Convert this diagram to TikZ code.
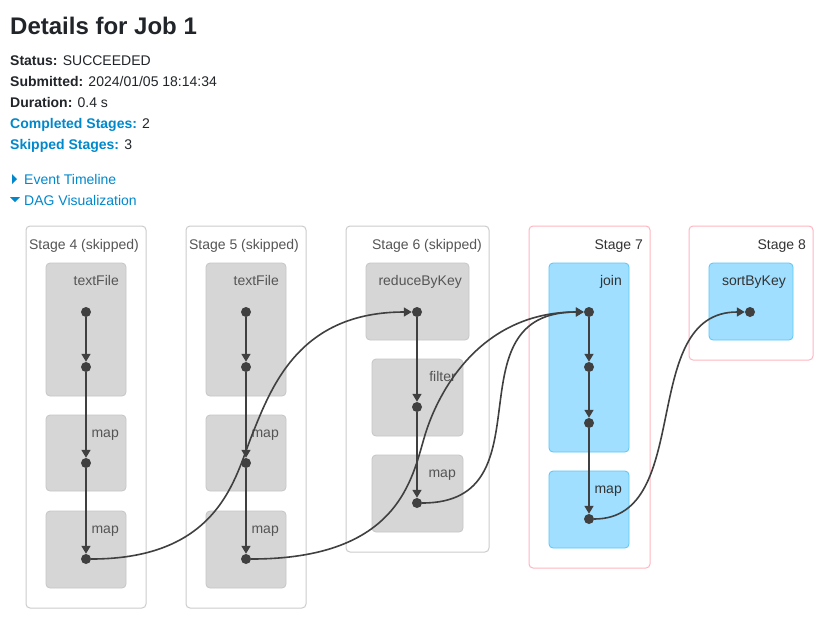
\documentclass[tikz,border=0pt]{standalone}
\usepackage{fontspec}
\setmainfont{Liberation Sans}
\usetikzlibrary{arrows.meta}
\definecolor{titlecol}{HTML}{212529}
\definecolor{linkcol}{HTML}{0088CC}
\definecolor{stageborder}{HTML}{CCCCCC}
\definecolor{activeborder}{HTML}{FFB6C1}
\definecolor{grayfill}{HTML}{D6D6D6}
\definecolor{grayborder}{HTML}{C6C6C6}
\definecolor{bluefill}{HTML}{A0DFFF}
\definecolor{blueborder}{HTML}{5BC6F8}
\definecolor{skiptext}{HTML}{555555}
\definecolor{activetext}{HTML}{333333}
\definecolor{dotcol}{HTML}{404040}
\tikzset{
  x=1pt, y=-1pt,
  txt/.style={inner sep=0pt, anchor=base west, font=\fontsize{14}{16}\selectfont, text=titlecol},
  stagebox/.style={draw=stageborder, line width=1pt, rounded corners=4pt, fill=white},
  activestage/.style={draw=activeborder, line width=1pt, rounded corners=4pt, fill=white},
  opbox/.style={draw=grayborder, line width=0.8pt, rounded corners=4pt, fill=grayfill},
  activeop/.style={draw=blueborder, line width=0.8pt, rounded corners=4pt, fill=bluefill},
  stlabel/.style={inner sep=0pt, anchor=base east, font=\fontsize{14}{16}\selectfont, text=skiptext},
  oplabel/.style={inner sep=0pt, anchor=base east, font=\fontsize{14}{16}\selectfont, text=skiptext},
  dot/.style={circle, fill=dotcol, inner sep=0pt, minimum size=10pt},
  edge/.style={draw=dotcol, line width=1.6pt, -{Triangle[length=8pt,width=9pt]}},
}
\begin{document}
\begin{tikzpicture}
\useasboundingbox[fill=white] (0,0) rectangle (840,630);
% header
\node[txt, font=\bfseries\fontsize{24}{28}\selectfont] (title) at (10,34) {Details for Job 1};
\node[txt] (status) at (10,65) {\textbf{Status:} SUCCEEDED};
\node[txt] (subm) at (10,86) {\textbf{Submitted:} 2024/01/05 18:14:34};
\node[txt] (dur) at (10,107) {\textbf{Duration:} 0.4 s};
\node[txt] (comp) at (10,128) {\textcolor{linkcol}{\textbf{Completed Stages:}} 2};
\node[txt] (skip) at (10,149) {\textcolor{linkcol}{\textbf{Skipped Stages:}} 3};
\fill[linkcol] (12,174) -- (17,179) -- (12,184) -- cycle;
\node[txt, text=linkcol] (evt) at (24,184) {Event Timeline};
\fill[linkcol] (10,197) -- (20,197) -- (15,202) -- cycle;
\node[txt, text=linkcol] (dag) at (24,205) {DAG Visualization};

% stage boxes
\draw[stagebox] (26,226) rectangle (146,608);
\draw[stagebox] (186,226) rectangle (306,608);
\draw[stagebox] (346,226) rectangle (489,552);
\draw[activestage] (529,226) rectangle (650,568);
\draw[activestage] (689,226) rectangle (813,360);
\node[stlabel] (s4) at (139,249) {Stage 4 (skipped)};
\node[stlabel] (s5) at (299,249) {Stage 5 (skipped)};
\node[stlabel] (s6) at (482,249) {Stage 6 (skipped)};
\node[stlabel, text=activetext] (s7) at (643,249) {Stage 7};
\node[stlabel, text=activetext] (s8) at (806,249) {Stage 8};

% operation boxes stage 4 and 5
\foreach \dx in {0,160}{
  \draw[opbox] (46+\dx,263) rectangle (126+\dx,396);
  \draw[opbox] (46+\dx,415) rectangle (126+\dx,491);
  \draw[opbox] (46+\dx,511) rectangle (126+\dx,588);
}
\node[oplabel] (l4a) at (119,285) {textFile};
\node[oplabel] (l4b) at (119,437) {map};
\node[oplabel] (l4c) at (119,533) {map};
\node[oplabel] (l5a) at (279,285) {textFile};
\node[oplabel] (l5b) at (279,437) {map};
\node[oplabel] (l5c) at (279,533) {map};
% stage 6
\draw[opbox] (366,263) rectangle (469,340);
\draw[opbox] (372,359) rectangle (463,436);
\draw[opbox] (372,455) rectangle (463,532);
\node[oplabel] (l6a) at (462,285) {reduceByKey};
\node[oplabel] (l6b) at (456,381) {filter};
\node[oplabel] (l6c) at (456,477) {map};
% stage 7
\draw[activeop] (549,263) rectangle (629,452);
\draw[activeop] (549,471) rectangle (629,548);
\node[oplabel, text=activetext] (l7a) at (622,285) {join};
\node[oplabel, text=activetext] (l7b) at (622,493) {map};
% stage 8
\draw[activeop] (709,263) rectangle (793,340);
\node[oplabel, text=activetext] (l8a) at (786,285) {sortByKey};

% dots
\node[dot] (a1) at (86,312) {};
\node[dot] (a2) at (86,367) {};
\node[dot] (a3) at (86,463) {};
\node[dot] (a4) at (86,559) {};
\node[dot] (b1) at (246,312) {};
\node[dot] (b2) at (246,367) {};
\node[dot] (b3) at (246,463) {};
\node[dot] (b4) at (246,559) {};
\node[dot] (c1) at (417,312) {};
\node[dot] (c2) at (417,407) {};
\node[dot] (c3) at (417,503) {};
\node[dot] (d1) at (589,312) {};
\node[dot] (d2) at (589,367) {};
\node[dot] (d3) at (589,423) {};
\node[dot] (d4) at (589,519) {};
\node[dot] (e1) at (750,312) {};

% vertical edges
\draw[edge] (a1) -- (a2);
\draw[edge] (a2) -- (a3);
\draw[edge] (a3) -- (a4);
\draw[edge] (b1) -- (b2);
\draw[edge] (b2) -- (b3);
\draw[edge] (b3) -- (b4);
\draw[edge] (c1) -- (c2);
\draw[edge] (c2) -- (c3);
\draw[edge] (d1) -- (d2);
\draw[edge] (d2) -- (d3);
\draw[edge] (d3) -- (d4);

% curved edges
\coordinate (m1) at (252,435);
\coordinate (m2) at (425,435);
\draw[edge] (a4) .. controls (220,559) and (235,477) .. (m1)
                 .. controls (272,385) and (300,312) .. (c1);
\draw[edge] (b4) .. controls (400,559) and (412,478) .. (m2)
                 .. controls (438,392) and (480,312) .. (d1);
\draw[edge] (c3) .. controls (552,503) and (447,312) .. (d1);
\draw[edge] (d4) .. controls (695,519) and (637,312) .. (e1);
\end{tikzpicture}
\end{document}
